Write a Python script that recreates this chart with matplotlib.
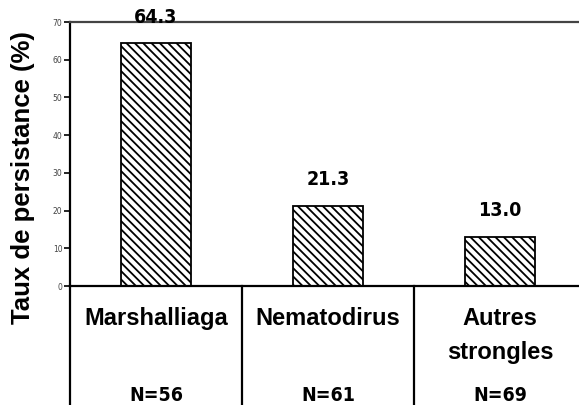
import matplotlib
matplotlib.use("Agg")
import matplotlib.pyplot as plt
import matplotlib.transforms as mtransforms

categories = ["Marshalliaga", "Nematodirus", "Autres\nstrongles"]
values = [64.3, 21.3, 13.0]
value_labels = ["64.3", "21.3", "13.0"]
n_labels = ["N=56", "N=61", "N=69"]
yticks = [0, 10, 20, 30, 40, 50, 60, 70]

plt.rcParams['hatch.linewidth'] = 1.3
W, H = 579, 405
fig = plt.figure(figsize=(W / 100, H / 100), dpi=100)
ax = fig.add_axes([70 / W, (H - 286) / H, (W - 70) / W, 264 / H])

x = list(range(len(categories)))
ax.bar(x, values, width=0.41, color="white", edgecolor="black", hatch="\\\\\\\\", linewidth=1.3)
ax.set_xlim(-0.5, -0.5 + (W - 70) / 172)
ax.set_ylim(0, 70)
ax.set_yticks(yticks)
ax.tick_params(axis="y", labelsize=5.5, labelcolor="#444444", length=4, width=1.2, pad=1.5)
ax.set_xticks([])
for s in ["left", "bottom", "top"]:
    ax.spines[s].set_linewidth(1.6)
ax.spines["right"].set_visible(False)
ax.spines["top"].set_color("#444444")

normal = dict(family="Liberation Sans", fontstretch="normal", fontweight="bold")
ax.set_ylabel("Taux de persistance (%)", fontsize=18.5, **normal)
ax.yaxis.set_label_coords(-0.068, 0.41)

cond = dict(family="DejaVu Sans", fontstretch="condensed", fontweight="bold")
for xi, v, lab in zip(x, values, value_labels):
    ax.annotate(lab, (xi, v), xytext=(0, 12), textcoords="offset points", ha="center", va="bottom",
                fontsize=14, **cond)

trans = mtransforms.blended_transform_factory(ax.transData, ax.transAxes)
bottom_frac = -(H - 286) / 264
for xd in [-0.5, 0.5, 1.5]:
    ax.plot([xd, xd], [0, bottom_frac], transform=trans, color="black", lw=1.6, clip_on=False)

for xi, c, nl in zip(x, categories, n_labels):
    ax.text(xi, -0.078, c, transform=trans, ha="center", va="top", fontsize=17,
            linespacing=1.65, **normal)
    ax.text(xi, -0.413, nl, transform=trans, ha="center", va="center", fontsize=14, **cond)

fig.savefig("out.png", dpi=100)
